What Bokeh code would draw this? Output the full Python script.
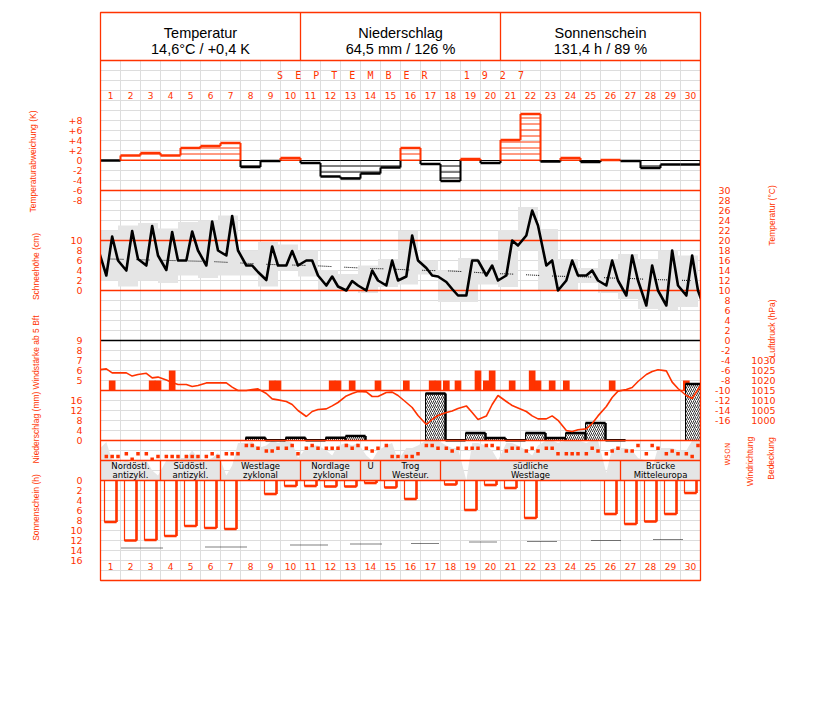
import math
from bokeh.plotting import figure
from bokeh.models import Range1d, ColumnDataSource
from bokeh.core.properties import value
from bokeh.embed import file_html
from bokeh.resources import INLINE

# ------------------------------------------------------------------ data
days = list(range(1, 31))

header_titles = ["Temperatur", "Niederschlag", "Sonnenschein"]
header_values = ["14,6°C / +0,4 K", "64,5 mm / 126 %", "131,4 h / 89 %"]
month_word = "SEPTEMBER"
year_word = "1927"

# daily temperature deviation (K)
temp_dev = [0.0, 1.0, 1.5, 1.0, 2.5, 2.9, 3.5, -1.3, -0.1, 0.5, -0.5, -3.2, -3.6, -2.6, -1.4,
            2.5, -0.7, -4.1, 0.3, -0.5, 4.1, 9.3, -0.2, 0.5, -0.3, 0.1, -0.1, -1.5, -0.8, -0.8]

# temperature at 7, 14, 21 h (°C)
temp_07 = [13.0, 14.0, 15.0, 14.1, 16.0, 15.0, 17.0, 15.0, 12.1, 15.0, 16.0, 11.0, 10.0, 10.0, 11.0,
           12.8, 14.5, 11.7, 9.0, 13.0, 13.0, 21.0, 15.0, 12.0, 13.0, 11.0, 9.0, 7.0, 7.0, 9.0]
temp_14 = [20.8, 21.9, 22.9, 21.7, 21.8, 23.8, 24.9, 15.0, 18.8, 17.9, 16.0, 12.8, 11.9, 14.0, 16.0,
           21.0, 13.0, 10.3, 16.0, 15.0, 20.0, 26.0, 16.0, 16.0, 14.0, 16.0, 17.0, 15.0, 18.0, 17.0]
temp_21 = [16.0, 16.3, 17.0, 16.0, 18.0, 18.0, 18.0, 13.7, 15.0, 15.0, 13.0, 10.8, 11.0, 12.0, 12.0,
           16.0, 12.8, 9.0, 16.0, 12.0, 19.0, 23.0, 10.0, 13.0, 12.0, 12.0, 12.0, 10.0, 11.0, 10.0]
temp_prev_21 = 18.4   # 31 Aug, 21 h
temp_next_07 = 5.3    # 1 Oct, 7 h
temp_max = [22.0, 23.0, 23.5, 22.4, 23.7, 24.0, 25.0, 18.0, 19.7, 19.2, 18.0, 14.1, 13.3, 15.0, 16.3,
            21.9, 16.0, 14.0, 16.5, 16.0, 22.1, 26.7, 22.3, 16.3, 14.5, 16.3, 17.3, 16.3, 18.0, 17.0]
temp_min = [12.0, 10.8, 12.0, 11.5, 13.0, 12.5, 13.0, 13.0, 10.8, 14.0, 12.8, 10.0, 10.0, 9.5, 10.7,
            11.2, 13.2, 7.7, 7.7, 11.2, 10.7, 18.1, 10.0, 10.0, 11.5, 9.5, 8.3, 6.3, 6.1, 6.7]
temp_norm = [16.3, 16.2, 16.1, 16.0, 15.9, 15.8, 15.6, 15.4, 15.2, 15.1, 15.0, 14.8, 14.6, 14.4, 14.3,
             14.1, 14.0, 13.9, 13.7, 13.4, 13.3, 13.1, 12.9, 12.8, 12.7, 12.5, 12.4, 12.2, 12.1, 12.0]

# air pressure at 7, 14, 21 h (hPa)
pres_07 = [1025.8, 1023.8, 1023.6, 1020.2, 1018.0, 1018.8, 1018.8, 1015.0, 1013.5, 1009.5,
           1002.0, 1005.8, 1012.3, 1014.3, 1014.0, 1009.0, 998.0, 1004.0, 1007.3, 1002.2,
           1009.5, 1004.5, 1000.8, 995.0, 995.8, 1007.0, 1015.5, 1023.0, 1024.8, 1012.5]
pres_14 = [1023.8, 1022.2, 1021.3, 1019.0, 1017.0, 1018.8, 1016.7, 1015.5, 1010.8, 1008.0,
           1004.5, 1007.3, 1013.5, 1012.0, 1014.2, 1006.5, 1000.5, 1004.8, 1004.0, 1008.0,
           1007.5, 1002.3, 1002.3, 994.5, 998.5, 1011.5, 1016.5, 1024.5, 1019.2, 1011.0]
pres_21 = [1023.8, 1023.0, 1021.7, 1018.0, 1017.5, 1018.8, 1015.0, 1015.8, 1010.3, 1005.0,
           1005.5, 1009.0, 1014.5, 1012.0, 1012.5, 1002.5, 1002.5, 1006.0, 1000.5, 1012.5,
           1006.3, 1000.8, 1000.1, 995.4, 1002.3, 1014.7, 1019.5, 1025.4, 1016.0, 1015.5]
pres_prev_21 = 1025.3
pres_next_07 = 1022.2

# wind force (Beaufort) at 7, 14, 21 h
wind_07 = [3, 3, 3, 3, 3, 3, 3, 3, 3, 3, 3, 3, 3, 3, 3, 5, 4, 5, 4, 5, 4, 4, 4, 5, 3, 3, 3, 3, 3, 5]
wind_14 = [5, 4, 5, 6, 4, 4, 4, 4, 5, 4, 4, 5, 5, 4, 4, 4, 5, 4, 4, 6, 5, 6, 5, 4, 4, 5, 4, 3, 3, 4]
wind_21 = [3, 3, 5, 4, 3, 3, 3, 3, 5, 3, 3, 5, 3, 5, 3, 3, 5, 5, 6, 4, 3, 5, 3, 3, 3, 3, 3, 3, 3, 3]

# wind direction at 7, 14, 21 h
wdir_07 = ["S", "SO", "SO", "S", "S", "S", "SO", "N", "O", "NO", "NO", "NO", "N", "NO", "N",
           "S", "N", "NO", "NO", "N", "O", "O", "NO", "SO", "SO", "SO", "O", "SO", "SO", "SO"]
wdir_14 = ["S", "SW", "SW", "S", "S", "SO", "SO", "N", "O", "N", "N", "NO", "NO", "O", "S",
           "S", "N", "O", "NO", "N", "NO", "NO", "NO", "SO", "NO", "O", "O", "N", "O", "S"]
wdir_21 = ["S", "SO", "S", "S", "S", "S", "SO", "NO", "NO", "SO", "NO", "NO", "N", "NO", "S",
           "SO", "NO", "NO", "NO", "NO", "NO", "O", "SO", "SO", "O", "NO", "N", "NO", "SO", "N"]
wdir_names = ["N", "O", "S", "W"]
wdir_index = {"N": 0, "NO": 0.5, "O": 1, "SO": 1.5, "S": 2, "SW": 2.5, "W": 3, "NW": 3.5}

# cloud cover (okta) at 7, 14, 21 h
cloud_07 = [7.7, 4.0, 4.0, 4.0, 4.5, 4.0, 1.0, 7.5, 7.0, 8.0, 6.5, 6.0, 7.5, 5.0, 7.0,
            6.5, 8.0, 7.0, 0.0, 7.0, 7.5, 6.0, 8.0, 8.0, 7.5, 1.5, 6.5, 4.0, 6.5, 6.0]
cloud_14 = [4.0, 3.5, 2.0, 4.0, 6.0, 4.5, 3.0, 7.7, 8.0, 7.5, 7.0, 5.0, 7.0, 4.0, 7.5,
            6.5, 8.0, 6.5, 7.5, 6.0, 7.5, 5.0, 8.0, 8.0, 8.0, 6.5, 6.0, 2.5, 6.5, 8.0]
cloud_21 = [3.5, 4.0, 1.0, 4.5, 4.5, 5.5, 7.5, 6.5, 7.5, 4.5, 7.0, 7.0, 7.5, 6.0, 4.0,
            7.0, 8.0, 6.5, 7.5, 4.0, 7.0, 7.0, 7.5, 8.0, 8.0, 6.5, 4.5, 6.5, 6.0, 8.0]
cloud_prev_21 = 6.0
cloud_next_07 = 8.0

# daily precipitation (mm, 7 h to 7 h)
precip = [0, 0, 0, 0, 0, 0, 0, 1.1, 0.1, 1.1, 0.1, 1.1, 1.8, 0, 0,
          0, 18.8, 0.1, 3.0, 1.0, 0.1, 3.0, 1.0, 3.0, 7.0, 0.1, 0, 0, 0, 22.6]

# daily sunshine duration (h)
sunshine = [8.3, 12.0, 11.9, 11.1, 9.1, 9.5, 9.7, 0.0, 2.7, 1.1, 1.1, 1.2, 1.2, 0.5, 1.4,
            3.7, 0.0, 0.8, 5.9, 0.9, 1.5, 7.5, 0.0, 0.0, 0.0, 6.7, 8.7, 8.2, 6.7, 2.5]
# normal sunshine (dotted marks): from day, to day, hours
sun_norm_from = [1.05, 5.25, 9.5, 12.5, 15.55, 18.45, 21.35, 24.55, 27.65]
sun_norm_to = [3.1, 7.3, 11.4, 14.1, 16.9, 19.8, 22.85, 26.0, 29.15]
sun_norm_h = [13.5, 13.3, 12.9, 12.7, 12.6, 12.3, 12.2, 12.0, 11.8]

# weather types (Großwetterlagen)
wlage_line1 = ["Nordöstl.", "Südöstl.", "Westlage", "Nordlage", "U", "Trog", "südliche", "Brücke"]
wlage_line2 = ["antizykl.", "antizykl.", "zyklonal", "zyklonal", "", "Westeur.", "Westlage", "Mitteleuropa"]
wlage_first = [1, 4, 7, 11, 14, 15, 18, 27]
wlage_last = [3, 6, 10, 13, 14, 17, 26, 30]

# tick labels
dev_ticks = [8, 6, 4, 2, 0, -2, -4, -6, -8]
dev_tick_text = ["+8", "+6", "+4", "+2", "0", "-2", "-4", "-6", "-8"]
snow_ticks = [10, 8, 6, 4, 2, 0]
wind_ticks = [9, 8, 7, 6, 5]
prec_ticks = [16, 12, 8, 4, 0]
sun_ticks = [0, 2, 4, 6, 8, 10, 12, 14, 16]
temp_ticks = list(range(30, -17, -2))
pres_ticks = [1030, 1025, 1020, 1015, 1010, 1005, 1000]

# ------------------------------------------------------------------ style / layout
RED = "#ff3300"
GRAY = "#e5e5e5"
GRIDC = "#dddddd"
TITLE_FONT = "Liberation Sans"
DIGIT_FONT = "DejaVu Sans"
W, H = 800, 600                # figure = frame (page pixels)
HOURS = (7, 14, 21)
WIND_BASE = 4
FR_TOP, FR_BOT = 12, 580       # page rows of the chart box
GRID_TOP = 60


def prange(y0, k, invert=False):
    """Range so that value v sits k px per unit away from page row y0."""
    if invert:
        return Range1d(start=(H - y0) / k, end=(0 - y0) / k)
    return Range1d(start=(y0 - H) / k, end=(y0 - 0) / k)


p = figure(width=W, height=H, min_border=0,
           x_range=Range1d(-5, 35), y_range=Range1d(H, 0),
           x_axis_location=None, y_axis_location=None,
           toolbar_location=None, output_backend="svg")
p.outline_line_color = None
p.background_fill_color = "white"
p.border_fill_color = "white"
p.grid.visible = False

p.extra_y_ranges = {
    "dev": prange(160, 5),
    "temp": prange(340, 5),
    "snow": prange(290, 5),
    "wind": prange(390 + WIND_BASE * 10, 10),
    "pres": prange(390 + 1015 * 2, 2),
    "prec": prange(440, 2.5),
    "cloud": prange(480, 5),
    "wdir": prange(445, 5.5, invert=True),
    "sun": prange(480, 5, invert=True),
}

# light grid inside the chart box
gx = list(range(1, 30))
p.segment(x0=gx, x1=gx, y0=GRID_TOP, y1=FR_BOT, line_color=GRIDC, line_width=1)
gy = list(range(70, FR_BOT, 10))
p.segment(x0=0, x1=30, y0=gy, y1=gy, line_color=GRIDC, line_width=1)


def obs_series(v07, v14, v21, prev, nxt):
    xs, ys = [-1 + 21 / 24], [prev]
    for d, a, b, c in zip(days, v07, v14, v21):
        for h, v in zip(HOURS, (a, b, c)):
            xs.append(d - 1 + h / 24)
            ys.append(v)
    xs.append(30 + 7 / 24)
    ys.append(nxt)
    return xs, ys


def txt(x, y, text, size, color=RED, font=DIGIT_FONT, align="center", rng="default", angle=0.0):
    p.text(x=x, y=y, text=text, y_range_name=rng, text_font=value(font), text_font_size=size,
           text_color=color, text_align=align, text_baseline="middle", angle=angle)


# ---------------- header
n_head = len(header_titles)
head_w = 30 / n_head
hx = [head_w * i for i in range(1, n_head)]
p.segment(x0=hx, x1=hx, y0=FR_TOP, y1=GRID_TOP, line_color=RED, line_width=1.3)
p.segment(x0=0, x1=30, y0=GRID_TOP, y1=GRID_TOP, line_color=RED, line_width=1.3)
txt([head_w * (i + 0.5) for i in range(n_head)], 32, header_titles, "14.5px", "black", "Liberation Sans")
txt([head_w * (i + 0.5) for i in range(n_head)], 48, header_values, "14.5px", "black", "Liberation Sans")

NB = "\u00a0"
month_text = (NB * 2).join(month_word) + NB * 6 + (NB * 2).join(year_word)
txt([15], [75.3], [month_text], "10px", RED, "DejaVu Sans Mono")

day_txt = [str(d) for d in days]
for yrow in (95, 565.5):
    txt([d - 0.5 for d in days], yrow, day_txt, "9px")

# ---------------- cloud cover (gray area behind wind direction / weather row)
cx, cy = obs_series(cloud_07, cloud_14, cloud_21, cloud_prev_21, cloud_next_07)
p.varea(x=cx, y1=0, y2=cy, y_range_name="cloud", fill_color=GRAY)

# ---------------- temperature panel
p.quad(left=[d - 1.125 for d in days], right=[d - 0.125 for d in days], bottom=temp_min,
       top=temp_max, y_range_name="temp", fill_color=GRAY, line_color=None)
p.segment(x0=0, x1=30, y0=[10, 20, 30], y1=[10, 20, 30], y_range_name="temp",
          line_color=RED, line_width=1.3)
p.line(x=[d - 0.5 for d in days], y=temp_norm, y_range_name="temp", line_color="black",
       line_width=1, line_dash="1 1 1 1 1 1 1 1 1 1 1 1 1 13")
tx, ty = obs_series(temp_07, temp_14, temp_21, temp_prev_21, temp_next_07)
p.line(x=tx, y=ty, y_range_name="temp", line_color="black", line_width=2.6, line_join="round")

# ---------------- temperature deviation panel
dev_col = [RED if v > 0 else "black" for v in temp_dev]
dev_src = ColumnDataSource(dict(l=[d - 1 for d in days], r=days, t=temp_dev, c=dev_col))
p.quad(left="l", right="r", bottom=0, top="t", source=dev_src, y_range_name="dev",
       fill_color=None, line_color=None, hatch_pattern="horizontal_line", hatch_color="c",
       hatch_scale=6, hatch_weight=1)
p.segment(x0="l", x1="r", y0=0, y1=0, source=dev_src, y_range_name="dev",
          line_color="c", line_width=1)
p.segment(x0="l", x1="r", y0="t", y1="t", source=dev_src, y_range_name="dev",
          line_color="c", line_width=2.6)
vx, va, vb, vc = [], [], [], []
edge_vals = [0.0] + temp_dev + [0.0]
for i in range(31):
    a, b = edge_vals[i], edge_vals[i + 1]
    if (a > 0 > b) or (a < 0 < b):
        vx += [i, i]; va += [a, 0]; vb += [0, b]
        vc += [RED if a > 0 else "black", RED if b > 0 else "black"]
    else:
        vx.append(i); va.append(a); vb.append(b)
        vc.append(RED if max(a, b) > 0 else "black")
p.segment(x0=vx, x1=vx, y0=va, y1=vb, y_range_name="dev", line_color=vc, line_width=2)

# ---------------- wind force
p.segment(x0=0, x1=30, y0=9, y1=9, y_range_name="wind", line_color="black", line_width=1.3)
wx, wb = [], []
for d, a, b, c in zip(days, wind_07, wind_14, wind_21):
    for h, v in zip(HOURS, (a, b, c)):
        if v > WIND_BASE:
            wx.append(d - 1 + h / 24)
            wb.append(v)
p.quad(left=[x - 1 / 6 for x in wx], right=[x + 1 / 6 for x in wx], bottom=WIND_BASE, top=wb,
       y_range_name="wind", fill_color=RED, line_color=None)
p.segment(x0=0, x1=30, y0=WIND_BASE, y1=WIND_BASE, y_range_name="wind",
          line_color=RED, line_width=1.3)

# ---------------- precipitation
pd_ = [d for d, v in zip(days, precip) if v > 0]
pv = [v for v in precip if v > 0]
p.quad(left=[d - 0.75 for d in pd_], right=[d + 0.25 for d in pd_], bottom=0, top=pv,
       y_range_name="prec", fill_color="white", line_color="black", line_width=1,
       hatch_pattern="right_diagonal_line", hatch_color="black", hatch_scale=4, hatch_weight=0.8)
p.segment(x0=[d - 0.75 for d in pd_], x1=[d + 0.25 for d in pd_], y0=pv, y1=pv,
          y_range_name="prec", line_color="black", line_width=2.5)
p.segment(x0=[d + 0.25 for d in pd_], x1=[d + 0.25 for d in pd_], y0=0, y1=pv,
          y_range_name="prec", line_color="black", line_width=2.5)

# ---------------- air pressure
px_, py_ = obs_series(pres_07, pres_14, pres_21, pres_prev_21, pres_next_07)
p.line(x=px_, y=py_, y_range_name="pres", line_color=RED, line_width=1.6)

p.segment(x0=0, x1=30, y0=0, y1=0, y_range_name="prec", line_color=RED, line_width=1.3)

# ---------------- wind direction
dx, dy = [], []
for d, a, b, c in zip(days, wdir_07, wdir_14, wdir_21):
    for h, v in zip(HOURS, (a, b, c)):
        dx.append(d - 1 + h / 24)
        dy.append(wdir_index[v])
p.scatter(x=dx, y=dy, y_range_name="wdir", marker="square", size=3.5,
          fill_color=RED, line_color=None)

# ---------------- weather type row
p.segment(x0=0, x1=30, y0=[460, 480], y1=[460, 480], line_color=RED, line_width=1.3)
sep = wlage_last[:-1]
p.segment(x0=sep, x1=sep, y0=460, y1=480, line_color=RED, line_width=1.3)
wl_x = [(a - 1 + b) / 2 for a, b in zip(wlage_first, wlage_last)]
txt(wl_x, 465.5, wlage_line1, "8.5px", "black")
txt(wl_x, 474.5, wlage_line2, "8.5px", "black")

# ---------------- sunshine
sd = [d for d, v in zip(days, sunshine) if v > 0]
sv = [v for v in sunshine if v > 0]
p.quad(left=[d - 0.8 for d in sd], right=[d - 0.2 for d in sd], top=0, bottom=sv,
       y_range_name="sun", fill_color=None, line_color=RED, line_width=1.2)
p.segment(x0=[d - 0.2 for d in sd], x1=[d - 0.2 for d in sd], y0=0, y1=sv,
          y_range_name="sun", line_color=RED, line_width=2.6)
p.segment(x0=[d - 0.8 for d in sd], x1=[d - 0.2 for d in sd], y0=sv, y1=sv,
          y_range_name="sun", line_color=RED, line_width=2.6)
p.segment(x0=sun_norm_from, x1=sun_norm_to, y0=sun_norm_h, y1=sun_norm_h, y_range_name="sun",
          line_color="black", line_width=1.2, line_dash="1 1")

# ---------------- white masks outside the chart box, then the box itself
p.quad(left=[-5, 30], right=[0, 35], top=GRID_TOP, bottom=FR_BOT, fill_color="white", line_color=None)
p.quad(left=0, right=30, top=FR_TOP, bottom=FR_BOT, fill_color=None, line_color=RED, line_width=1.3)

# ---------------- tick labels
LEFT_X = -0.9
txt(LEFT_X, dev_ticks, dev_tick_text, "9.5px", align="right", rng="dev")
txt(LEFT_X, snow_ticks, [str(v) for v in snow_ticks], "9.5px", align="right", rng="snow")
txt(LEFT_X, wind_ticks, [str(v) for v in wind_ticks], "9.5px", align="right", rng="wind")
txt(LEFT_X, prec_ticks, [str(v) for v in prec_ticks], "9.5px", align="right", rng="prec")
txt(LEFT_X, sun_ticks, [str(v) for v in sun_ticks], "9.5px", align="right", rng="sun")
txt(31.5, temp_ticks, [str(v) for v in temp_ticks], "9.5px", align="right", rng="temp")
txt(33.75, pres_ticks, [str(v) for v in pres_ticks], "9.5px", align="right", rng="pres")
txt(31.375, [wdir_index[n] for n in wdir_names], wdir_names, "7px", rng="wdir", angle=math.pi / 2)

# ---------------- rotated axis titles
titles = ["Temperaturabweichung (K)", "Schneehöhe (cm)", "Windstärke ab 5 Bft", "Niederschlag (mm)",
          "Sonnenschein (h)", "Temperatur (°C)", "Luftdruck (hPa)", "Windrichtung", "Bedeckung"]
title_x = [-3.4, -3.25, -3.25, -3.25, -3.25, 33.55, 33.55, 32.45, 33.5]
title_y = [161, 266, 352, 427, 507, 215, 328, 461, 458]
txt(title_x, title_y, titles, "8.5px", RED, TITLE_FONT, angle=math.pi / 2)

open("out.html", "w").write(file_html(p, INLINE))
